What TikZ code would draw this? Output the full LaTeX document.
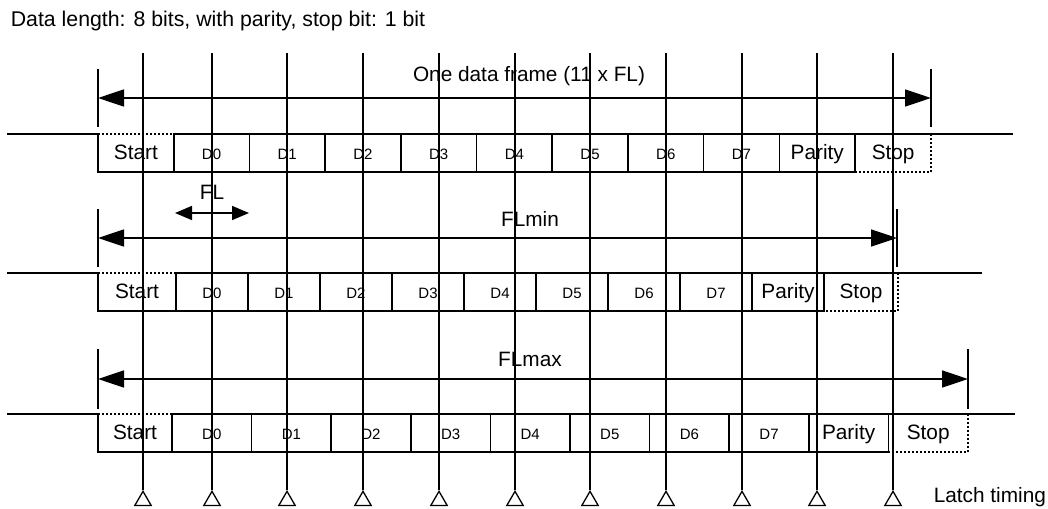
\documentclass[tikz,border=0pt]{standalone}
\usepackage{fontspec}
\setmainfont{Liberation Sans}
\usetikzlibrary{arrows.meta,shapes.geometric}

\begin{document}
\begin{tikzpicture}[x=1pt,y=-1pt,line width=1.6pt,
  bigtext/.style={font=\fontsize{20.8}{24}\selectfont, inner sep=0pt},
  smalltext/.style={font=\fontsize{15}{18}\selectfont},
  bitbox/.style={draw, inner sep=0pt, outer sep=0pt, minimum height=38pt, text height=15pt, text depth=3pt},
  endbox/.style={inner sep=0pt, outer sep=0pt, minimum height=38pt, text height=15pt, text depth=3pt, font=\fontsize{20.8}{24}\selectfont},
  dotline/.style={dash pattern=on 2pt off 2pt},
  framearrow/.style={{Triangle[length=26pt,width=17pt]}-{Triangle[length=26pt,width=17pt]}},
  flarrow/.style={{Triangle[length=17pt,width=14pt]}-{Triangle[length=17pt,width=14pt]}},
  latchmark/.style={draw, regular polygon, regular polygon sides=3, minimum size=19pt, inner sep=0pt, line width=1.3pt}]
\useasboundingbox (0,0) rectangle (1048,508);

\node[bigtext, font=\fontsize{21.3}{24}\selectfont, anchor=base west] (title) at (10,27) {Data length: 8 bits, with parity, stop bit: 1 bit};

% one data frame
\node[bigtext, anchor=base] (lab1) at (529,82) {One data frame (11 x FL)};
\coordinate (a1l) at (98,98);
\coordinate (a1r) at (931,98);
\draw[framearrow] (a1l) -- (a1r);
\draw ([yshift=29pt]a1l) -- ([yshift=-29pt]a1l);
\draw ([yshift=29pt]a1r) -- ([yshift=-29pt]a1r);
\node[endbox, minimum width=75.7pt] (st1) at (135.85,153) {Start};
\foreach \i in {0,...,7}
  \node[bitbox, smalltext, minimum width=75.7pt] (d1\i) at ({173.7+(\i+0.5)*75.7},153) {D\i};
\node[bitbox, font=\fontsize{20.8}{24}\selectfont, minimum width=75.7pt] (par1) at (817.3,153) {Parity};
\node[endbox, minimum width=75.7pt] (sp1) at (893.15,153) {Stop};
\coordinate (i1l) at (7,134);
\coordinate (i1r) at (1013,134);
\draw (i1l) -- (st1.north west);
\draw[dotline] (st1.north west) -- (st1.north east);
\draw (st1.north east) -- (st1.south east) -- (st1.south west) -- (st1.north west);
\draw (sp1.north west) -- (sp1.north east) -- (i1r);
\draw[dotline] (sp1.north east) -- (sp1.south east) -- (sp1.south west);

% FLmin
\node[bigtext, anchor=base] (fl) at (212,199) {FL};
\coordinate (fla) at (175,213);
\coordinate (flb) at (249,213);
\draw[flarrow] (fla) -- (flb);
\node[bigtext, anchor=base] (lab2) at (530,226) {FLmin};
\coordinate (a2l) at (98,238);
\coordinate (a2r) at (897,238);
\draw[framearrow] (a2l) -- (a2r);
\draw ([yshift=29pt]a2l) -- ([yshift=-29pt]a2l);
\draw ([yshift=29pt]a2r) -- ([yshift=-29pt]a2r);
\node[endbox, minimum width=78pt] (st2) at (137,292) {Start};
\foreach \i in {0,...,7}
  \node[bitbox, smalltext, minimum width=72pt] (d2\i) at ({176+(\i+0.5)*72},292) {D\i};
\node[bitbox, font=\fontsize{20.8}{24}\selectfont, minimum width=72pt] (par2) at (788,292) {Parity};
\node[endbox, minimum width=74pt] (sp2) at (861,292) {Stop};
\coordinate (i2l) at (7,273);
\coordinate (i2r) at (982,273);
\draw (i2l) -- (st2.north west);
\draw[dotline] (st2.north west) -- (st2.north east);
\draw (st2.north east) -- (st2.south east) -- (st2.south west) -- (st2.north west);
\draw (sp2.north west) -- (sp2.north east) -- (i2r);
\draw[dotline] (sp2.north east) -- (sp2.south east) -- (sp2.south west);

% FLmax
\node[bigtext, anchor=base] (lab3) at (530,366) {FLmax};
\coordinate (a3l) at (98,379);
\coordinate (a3r) at (968,379);
\draw[framearrow] (a3l) -- (a3r);
\draw ([yshift=30pt]a3l) -- ([yshift=-30pt]a3l);
\draw ([yshift=30pt]a3r) -- ([yshift=-30pt]a3r);
\node[endbox, minimum width=74pt] (st3) at (135,433) {Start};
\foreach \i in {0,...,7}
  \node[bitbox, smalltext, minimum width=79.6pt] (d3\i) at ({172+(\i+0.5)*79.6},433) {D\i};
\node[bitbox, font=\fontsize{20.8}{24}\selectfont, minimum width=79.6pt] (par3) at (848.6,433) {Parity};
\node[endbox, minimum width=79.6pt] (sp3) at (928.2,433) {Stop};
\coordinate (i3l) at (7,414);
\coordinate (i3r) at (1015,414);
\draw (i3l) -- (st3.north west);
\draw[dotline] (st3.north west) -- (st3.north east);
\draw (st3.north east) -- (st3.south east) -- (st3.south west) -- (st3.north west);
\draw (sp3.north west) -- (sp3.north east) -- (i3r);
\draw[dotline] (sp3.north east) -- (sp3.south east) -- (sp3.south west);

% latch timing
\foreach \x [count=\i] in {143,212,287,363,439,515,590,666,742,817,893} {
  \node[latchmark] (m\i) at (\x,500.8) {};
  \coordinate (top\i) at (\x,53);
  \draw (top\i) -- (m\i.corner 1);
}
\node[bigtext, anchor=base west] (latch) at (933,502) {Latch timing};
\end{tikzpicture}
\end{document}
